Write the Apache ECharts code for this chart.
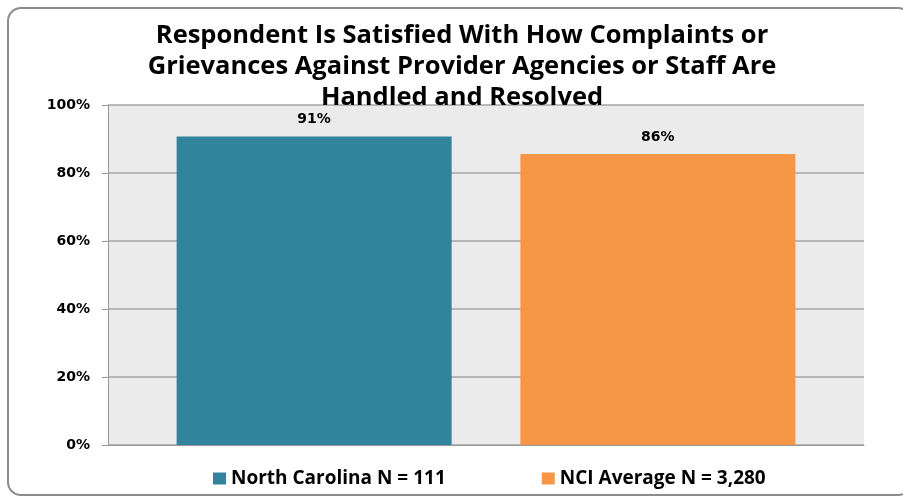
<!DOCTYPE html>
<html><head><meta charset="utf-8">
<script src="https://cdn.jsdelivr.net/npm/echarts@6/dist/echarts.min.js"></script>
<style>html,body{margin:0;padding:0;background:#fff}#c{width:903px;height:500px}
#frame{position:absolute;left:7px;top:7px;width:905px;height:489px;border:2px solid #8c8c8c;border-radius:14px;box-sizing:border-box;pointer-events:none}</style>
</head><body><div id="c"></div><div id="frame"></div>
<script>
const titleText = 'Respondent Is Satisfied With How Complaints or\nGrievances Against Provider Agencies or Staff Are\nHandled and Resolved';
const categories = [''];
const seriesNames = ['North Carolina N = 111', 'NCI Average N = 3,280'];
const ncValues = [90.7];
const nciValues = [85.6];
const colors = ['#31849B', '#F79646'];

const chart = echarts.init(document.getElementById('c'), null, {renderer: 'canvas'});
const font = '"DejaVu Sans",sans-serif';
const wide = '"Open Sans",sans-serif';
const lbl = {show: true, position: 'top', formatter: p => Math.round(p.value) + '%', fontFamily: font, fontWeight: 'bold', fontSize: 14, color: '#000', distance: 10};
chart.setOption({
  animation: false,
  title: {
    text: titleText, left: 457, top: 15, textAlign: 'center',
    textStyle: {fontFamily: wide, fontWeight: 'bold', fontSize: 25.5, lineHeight: 31, color: '#000'}
  },
  legend: {
    bottom: 7, left: 208, itemGap: 96, itemWidth: 13, itemHeight: 12, icon: 'rect',
    textStyle: {fontFamily: wide, fontWeight: 'bold', fontSize: 19, color: '#000'},
    data: seriesNames
  },
  grid: {left: 108, right: 39, top: 105, bottom: 55, show: true, backgroundColor: '#EBEBEB', borderWidth: 0},
  xAxis: {
    type: 'category', data: categories,
    axisLine: {lineStyle: {color: '#999', width: 1}}, axisTick: {show: false}, axisLabel: {show: false}
  },
  yAxis: {
    type: 'value', min: 0, max: 100, interval: 20,
    axisLine: {show: true, lineStyle: {color: '#999'}},
    axisTick: {show: true, length: 6, lineStyle: {color: '#999'}},
    axisLabel: {formatter: '{value}%', fontFamily: font, fontWeight: 'bold', fontSize: 14, color: '#000', margin: 18},
    splitLine: {lineStyle: {color: '#A6A6A6', width: 1.5}}
  },
  series: [
    {name: seriesNames[0], type: 'bar', data: ncValues, barWidth: 275, barGap: '25%', itemStyle: {color: colors[0]}, label: lbl},
    {name: seriesNames[1], type: 'bar', data: nciValues, barWidth: 275, itemStyle: {color: colors[1]}, label: lbl}
  ]
});
</script></body></html>
